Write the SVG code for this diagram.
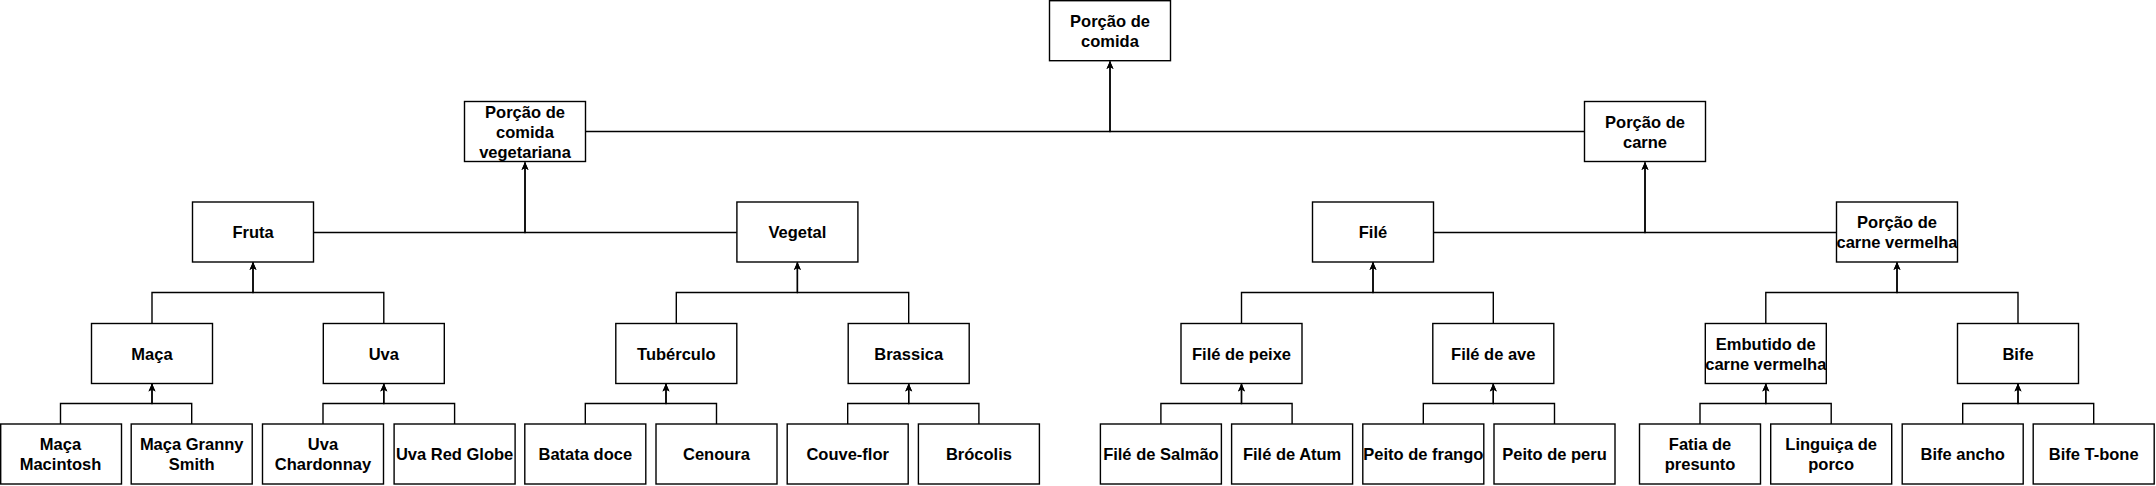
<svg xmlns="http://www.w3.org/2000/svg" width="2156" height="486" viewBox="0 0 2156 486">
<style>
.box{fill:#fff;stroke:#000;stroke-width:1.4}
.t{font-family:"Liberation Sans",Arial,sans-serif;font-weight:bold;font-size:16.5px;fill:#000;text-anchor:middle;dominant-baseline:central}
.e{fill:none;stroke:#000;stroke-width:1.4}
.a{marker-end:url(#arr)}
</style>
<defs>
<marker id="arr" markerUnits="userSpaceOnUse" markerWidth="8" markerHeight="8" viewBox="0 0 8 8" refX="7.5" refY="4" orient="auto">
<path d="M0,0.5 L8,4 L0,7.5 L2,4 z" fill="#000"/>
</marker>
</defs>
<rect width="2156" height="486" fill="#fff"/>
<g id="connectors">
<path class="e a" d="M585.5,131.5 H1110 V61.5"/>
<path class="e a" d="M1584.5,131.5 H1110 V61.5"/>
<path class="e a" d="M313.6,232.5 H525 V162.5"/>
<path class="e a" d="M736.9,232.5 H525 V162.5"/>
<path class="e a" d="M1433.5,232.5 H1645 V162.5"/>
<path class="e a" d="M1836.5,232.5 H1645 V162.5"/>
<path class="e a" d="M152,323.5 V292.5 H253 V262.5"/>
<path class="e a" d="M383.8,323.5 V292.5 H253 V262.5"/>
<path class="e a" d="M676.3,323.5 V292.5 H797.4 V262.5"/>
<path class="e a" d="M908.7,323.5 V292.5 H797.4 V262.5"/>
<path class="e a" d="M1241.5,323.5 V292.5 H1373 V262.5"/>
<path class="e a" d="M1493.3,323.5 V292.5 H1373 V262.5"/>
<path class="e a" d="M1765.8,323.5 V292.5 H1897 V262.5"/>
<path class="e a" d="M2018,323.5 V292.5 H1897 V262.5"/>
<path class="e a" d="M60.5,424 V403.5 H152 V384"/>
<path class="e a" d="M191.7,424 V403.5 H152 V384"/>
<path class="e a" d="M323,424 V403.5 H383.8 V384"/>
<path class="e a" d="M454.6,424 V403.5 H383.8 V384"/>
<path class="e a" d="M585.3,424 V403.5 H666 V384"/>
<path class="e a" d="M716.5,424 V403.5 H666 V384"/>
<path class="e a" d="M847.7,424 V403.5 H908.7 V384"/>
<path class="e a" d="M978.9,424 V403.5 H908.7 V384"/>
<path class="e a" d="M1160.9,424 V403.5 H1241.5 V384"/>
<path class="e a" d="M1292.1,424 V403.5 H1241.5 V384"/>
<path class="e a" d="M1423.3,424 V403.5 H1493.3 V384"/>
<path class="e a" d="M1554.5,424 V403.5 H1493.3 V384"/>
<path class="e a" d="M1700,424 V403.5 H1765.8 V384"/>
<path class="e a" d="M1831.2,424 V403.5 H1765.8 V384"/>
<path class="e a" d="M1962.7,424 V403.5 H2018 V384"/>
<path class="e a" d="M2093.7,424 V403.5 H2018 V384"/>
</g>
<g id="n-comida"><rect class="box" x="1049.5" y="0.7" width="121" height="60"/><text class="t" x="1110" y="20.7">Porção de</text><text class="t" x="1110" y="40.7">comida</text></g>
<g id="n-vegetariana"><rect class="box" x="464.5" y="101.5" width="121" height="60"/><text class="t" x="525" y="111.5">Porção de</text><text class="t" x="525" y="131.5">comida</text><text class="t" x="525" y="151.5">vegetariana</text></g>
<g id="n-carne"><rect class="box" x="1584.5" y="101.5" width="121" height="60"/><text class="t" x="1645" y="121.5">Porção de</text><text class="t" x="1645" y="141.5">carne</text></g>
<g id="n-fruta"><rect class="box" x="192.5" y="202" width="121" height="60"/><text class="t" x="253" y="232">Fruta</text></g>
<g id="n-vegetal"><rect class="box" x="736.9" y="202" width="121" height="60"/><text class="t" x="797.4" y="232">Vegetal</text></g>
<g id="n-file"><rect class="box" x="1312.5" y="202" width="121" height="60"/><text class="t" x="1373" y="232">Filé</text></g>
<g id="n-carne-vermelha"><rect class="box" x="1836.5" y="202" width="121" height="60"/><text class="t" x="1897" y="222">Porção de</text><text class="t" x="1897" y="242">carne vermelha</text></g>
<g id="n-maca"><rect class="box" x="91.5" y="323.5" width="121" height="60"/><text class="t" x="152" y="353.5">Maça</text></g>
<g id="n-uva"><rect class="box" x="323.3" y="323.5" width="121" height="60"/><text class="t" x="383.8" y="353.5">Uva</text></g>
<g id="n-tuberculo"><rect class="box" x="615.8" y="323.5" width="121" height="60"/><text class="t" x="676.3" y="353.5">Tubérculo</text></g>
<g id="n-brassica"><rect class="box" x="848.2" y="323.5" width="121" height="60"/><text class="t" x="908.7" y="353.5">Brassica</text></g>
<g id="n-file-peixe"><rect class="box" x="1181" y="323.5" width="121" height="60"/><text class="t" x="1241.5" y="353.5">Filé de peixe</text></g>
<g id="n-file-ave"><rect class="box" x="1432.8" y="323.5" width="121" height="60"/><text class="t" x="1493.3" y="353.5">Filé de ave</text></g>
<g id="n-embutido"><rect class="box" x="1705.3" y="323.5" width="121" height="60"/><text class="t" x="1765.8" y="343.5">Embutido de</text><text class="t" x="1765.8" y="363.5">carne vermelha</text></g>
<g id="n-bife"><rect class="box" x="1957.5" y="323.5" width="121" height="60"/><text class="t" x="2018" y="353.5">Bife</text></g>
<g id="n-maca-macintosh"><rect class="box" x="0.7" y="424" width="120.8" height="60"/><text class="t" x="60.5" y="444">Maça</text><text class="t" x="60.5" y="464">Macintosh</text></g>
<g id="n-maca-granny"><rect class="box" x="131.2" y="424" width="121" height="60"/><text class="t" x="191.7" y="444">Maça Granny</text><text class="t" x="191.7" y="464">Smith</text></g>
<g id="n-uva-chardonnay"><rect class="box" x="262.5" y="424" width="121" height="60"/><text class="t" x="323" y="444">Uva</text><text class="t" x="323" y="464">Chardonnay</text></g>
<g id="n-uva-red-globe"><rect class="box" x="394.1" y="424" width="121" height="60"/><text class="t" x="454.6" y="454">Uva Red Globe</text></g>
<g id="n-batata-doce"><rect class="box" x="524.8" y="424" width="121" height="60"/><text class="t" x="585.3" y="454">Batata doce</text></g>
<g id="n-cenoura"><rect class="box" x="656" y="424" width="121" height="60"/><text class="t" x="716.5" y="454">Cenoura</text></g>
<g id="n-couve-flor"><rect class="box" x="787.2" y="424" width="121" height="60"/><text class="t" x="847.7" y="454">Couve-flor</text></g>
<g id="n-brocolis"><rect class="box" x="918.4" y="424" width="121" height="60"/><text class="t" x="978.9" y="454">Brócolis</text></g>
<g id="n-file-salmao"><rect class="box" x="1100.4" y="424" width="121" height="60"/><text class="t" x="1160.9" y="454">Filé de Salmão</text></g>
<g id="n-file-atum"><rect class="box" x="1231.6" y="424" width="121" height="60"/><text class="t" x="1292.1" y="454">Filé de Atum</text></g>
<g id="n-peito-frango"><rect class="box" x="1362.8" y="424" width="121" height="60"/><text class="t" x="1423.3" y="454">Peito de frango</text></g>
<g id="n-peito-peru"><rect class="box" x="1494" y="424" width="121" height="60"/><text class="t" x="1554.5" y="454">Peito de peru</text></g>
<g id="n-fatia-presunto"><rect class="box" x="1639.5" y="424" width="121" height="60"/><text class="t" x="1700" y="444">Fatia de</text><text class="t" x="1700" y="464">presunto</text></g>
<g id="n-linguica"><rect class="box" x="1770.7" y="424" width="121" height="60"/><text class="t" x="1831.2" y="444">Linguiça de</text><text class="t" x="1831.2" y="464">porco</text></g>
<g id="n-bife-ancho"><rect class="box" x="1902.2" y="424" width="121" height="60"/><text class="t" x="1962.7" y="454">Bife ancho</text></g>
<g id="n-bife-tbone"><rect class="box" x="2033.2" y="424" width="121" height="60"/><text class="t" x="2093.7" y="454">Bife T-bone</text></g>
</svg>
